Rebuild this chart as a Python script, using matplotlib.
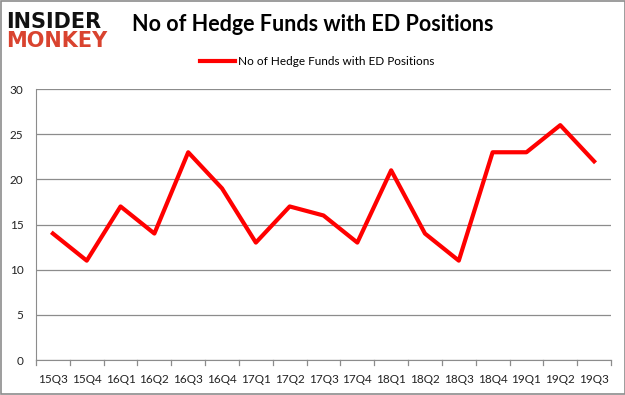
import matplotlib
matplotlib.use("Agg")
import matplotlib.pyplot as plt
from matplotlib.patches import Rectangle

quarters = ["15Q3", "15Q4", "16Q1", "16Q2", "16Q3", "16Q4", "17Q1", "17Q2", "17Q3",
            "17Q4", "18Q1", "18Q2", "18Q3", "18Q4", "19Q1", "19Q2", "19Q3"]
funds = [14, 11, 17, 14, 23, 19, 13, 17, 16, 13, 21, 14, 11, 23, 23, 26, 22]
yticks = [0, 5, 10, 15, 20, 25, 30]
series_name = "No of Hedge Funds with ED Positions"
title = "No of Hedge Funds with ED Positions"

plt.rcParams["font.family"] = ["Lato", "DejaVu Sans"]

fig = plt.figure(figsize=(6.25, 3.95), dpi=100)
fig.patch.set_facecolor("white")
fig.add_artist(Rectangle((0.0008, 0.0013), 0.9984, 0.9974, transform=fig.transFigure,
                         fill=False, edgecolor="#8c8c8c", linewidth=1.2))

ax = fig.add_axes([0.0576, 0.0886, 0.92, 0.686])
x = list(range(len(quarters)))
ax.plot(x, funds, color="#ff0000", linewidth=3, label=series_name, solid_joinstyle="round")
ax.set_xlim(-0.5, len(quarters) - 0.5)
ax.set_ylim(0, 30)
ax.set_yticks(yticks)
ax.set_yticklabels([str(v) for v in yticks], fontsize=8.5, color="#222222")
ax.set_xticks(x)
ax.set_xticklabels(quarters, fontsize=8.5, color="#222222")
ax.tick_params(axis="x", length=0, pad=10)
ax.tick_params(axis="y", length=0, pad=9)
# boundary tick marks
for b in [i - 0.5 for i in range(len(quarters) + 1)]:
    ax.plot([b, b], [0, -0.55], color="#8c8c8c", linewidth=0.9, clip_on=False)
ax.grid(axis="y", color="#8c8c8c", linewidth=0.9)
ax.set_axisbelow(True)
for s in ["top", "right"]:
    ax.spines[s].set_visible(False)
ax.spines["left"].set_color("#8c8c8c")
ax.spines["bottom"].set_color("#8c8c8c")

fig.text(0.5, 0.938, title, ha="center", va="center", fontsize=15.5, fontweight="bold",
         color="#000000")
leg = fig.legend(loc="center", bbox_to_anchor=(0.507, 0.845), frameon=False, fontsize=8.5,
                 handlelength=3.0, handletextpad=0.2)

fig.text(0.01, 0.945, "INSIDER", ha="left", va="center", fontsize=15, fontweight="bold",
         color="#111111", family="DejaVu Sans")
fig.text(0.01, 0.895, "MONKEY", ha="left", va="center", fontsize=15, fontweight="bold",
         color="#d9432f", family="DejaVu Sans")

fig.savefig("out.png", dpi=100)
